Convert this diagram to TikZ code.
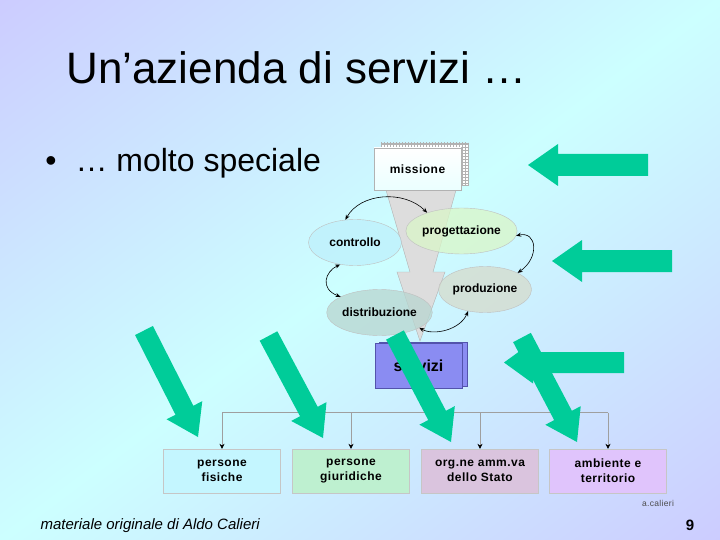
\documentclass[tikz,border=0pt]{standalone}
\usepackage{fontspec}
\setmainfont{Liberation Sans}
\newfontfamily\spacedfont[LetterSpace=4]{Liberation Sans}
\usetikzlibrary{shapes.geometric,arrows.meta,calc,patterns}

\definecolor{bglav}{RGB}{204,204,255}
\definecolor{bgcyan}{RGB}{204,255,255}
\definecolor{arrowgreen}{RGB}{0,204,153}
\definecolor{funnelgray}{RGB}{221,221,221}
\definecolor{ctrlblue}{RGB}{190,240,252}
\definecolor{progreen}{RGB}{218,246,200}
\definecolor{prodgray}{RGB}{214,219,204}
\definecolor{distteal}{RGB}{184,214,208}
\definecolor{servblue}{RGB}{138,140,242}
\definecolor{sfis}{RGB}{196,246,255}
\definecolor{sgiu}{RGB}{190,240,208}
\definecolor{sorg}{RGB}{218,196,222}
\definecolor{samb}{RGB}{224,196,252}

\newcommand{\greenarrow}[5]{%
  \coordinate (hb) at ($(#2)!#5!(#1)$);
  \fill[arrowgreen] ($(#1)!#3!90:(#2)$) -- ($(hb)!#3!-90:(#1)$) -- ($(hb)!#4!-90:(#1)$) -- (#2)
    -- ($(hb)!#4!90:(#1)$) -- ($(hb)!#3!90:(#1)$) -- ($(#1)!#3!-90:(#2)$) -- cycle;}

\begin{document}
\begin{tikzpicture}[x=1pt,y=-1pt,>={Stealth[length=5pt,width=4pt]}]
\tikzstyle{fase}=[ellipse,draw=gray!50,fill opacity=0.75,text opacity=1,minimum width=93pt,minimum height=46pt,inner sep=0pt,font=\bfseries\fontsize{12}{14}\selectfont]
\tikzstyle{sogg}=[rectangle,draw=gray!45,minimum width=117pt,minimum height=44pt,align=center,font=\spacedfont\bfseries\fontsize{12}{15}\selectfont]
\tikzstyle{loop}=[<->,black,line width=0.6pt]
\tikzstyle{bus}=[gray!75,line width=0.6pt]
\useasboundingbox (0,0) rectangle (720,540);
\begin{scope}
\clip (0,0) rectangle (720,540);
\shade[transform canvas={shift={(360,270)},rotate=36.87},top color=bglav,bottom color=bglav,middle color=bgcyan] (-460,-432) rectangle (460,432);
\end{scope}

\node[anchor=base west,font=\fontsize{44}{50}\selectfont](title) at (63,84) {Un’azienda di servizi …};
\node[anchor=base,font=\fontsize{32}{38}\selectfont](bullet) at (51,172) {•};
\node[anchor=base west,font=\fontsize{32}{38}\selectfont](sub) at (72,172) {… molto speciale};

\draw[gray!60,fill=funnelgray] (386,190) -- (456,190) -- (433,272) -- (445,272) -- (420,341) -- (397,272) -- (410,272) -- cycle;
\draw[gray!60,fill=white,postaction={pattern=grid,pattern color=gray!60}] (381,143) rectangle (468,185);
\node[rectangle,draw=gray!60,top color=white,bottom color=cyan!8,minimum width=87pt,minimum height=42pt,font=\spacedfont\bfseries\fontsize{12}{14}\selectfont](miss) at (417.5,169) {missione};

\node[fase,fill=ctrlblue](ctrl) at (355,242.5) {controllo};
\node[fase,fill=progreen](prog) at (461.5,231) {progettazione};
\node[fase,fill=prodgray](prod) at (485,289.5) {produzione};
\node[fase,fill=distteal](dist) at (379.5,312.5) {distribuzione};

\draw[loop] (ctrl.113) .. controls +(15,-27) and +(-23,-23) .. (prog.152);
\draw[loop] (prog.-5) .. controls +(21,-5) and +(22,-15) .. (prod.27);
\draw[loop] (prod.-128) .. controls +(-8,19) and +(14,8) .. (dist.-21);
\draw[loop] (ctrl.-124) .. controls +(-15,7) and +(-21,-8) .. (dist.158);

\draw[blue!35!gray,fill=servblue] (379,342) rectangle (467,386);
\node[rectangle,draw=blue!35!gray,fill=servblue,minimum width=87pt,minimum height=45pt,font=\bfseries\fontsize{16}{18}\selectfont](serv) at (418.5,365.5) {servizi};

\node[sogg,fill=sfis](fis) at (222,471) {persone\\fisiche};
\node[sogg,fill=sgiu](giu) at (351,471) {persone\\giuridiche};
\node[sogg,fill=sorg](org) at (480,471) {org.ne amm.va\\dello Stato};
\node[sogg,fill=samb](amb) at (608,471) {ambiente e\\territorio};

\coordinate (rail) at (0,412.5);
\draw[bus] (fis.north |- rail) -- (amb.north |- rail);
\foreach \s in {fis,giu,org,amb}
  \draw[bus,-{Stealth[length=5pt,width=5pt,black]}] (\s.north |- rail) -- (\s.north);

\node[font=\spacedfont\fontsize{8.5}{10}\selectfont,text=gray!60!black](sigla) at (658,503) {a.calieri};
\node[anchor=base west,font=\itshape\fontsize{15}{18}\selectfont](note) at (37,529) {materiale originale di Aldo Calieri};
\node[anchor=base,font=\bfseries\fontsize{15}{18}\selectfont](page) at (690,530) {9};

\greenarrow{648,165}{528,165}{11pt}{21pt}{30pt}
\greenarrow{672,261}{552,261}{11pt}{21pt}{30pt}
\greenarrow{624,362.5}{504,362.5}{10.5pt}{21pt}{29pt}
\greenarrow{144,330.5}{198,437}{10pt}{20pt}{30pt}
\greenarrow{268.5,336}{323,438}{10pt}{20pt}{30pt}
\greenarrow{395,335}{451,442}{10pt}{20pt}{30pt}
\greenarrow{522,337.5}{577,442}{10pt}{20pt}{30pt}
\end{tikzpicture}
\end{document}
